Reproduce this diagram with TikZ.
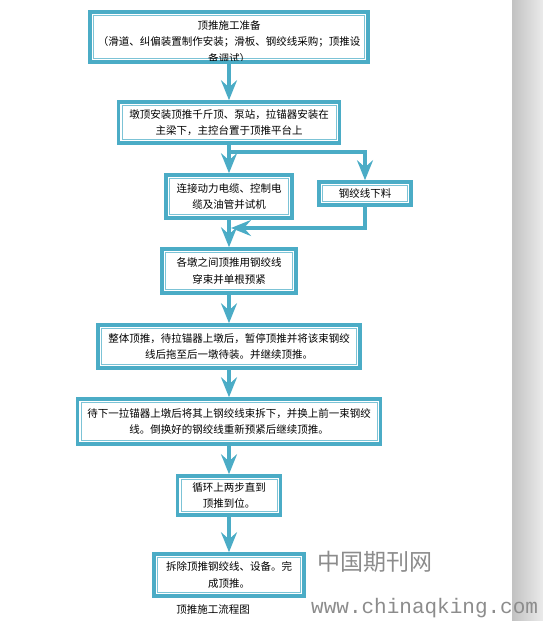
\documentclass[tikz,border=0pt]{standalone}
\usepackage{fontspec}
\usepackage{tikz}
\usetikzlibrary{arrows.meta}
\newfontfamily\cjk{Noto Sans CJK SC}
\newfontfamily\wmmono{Liberation Mono}
\definecolor{flowblue}{HTML}{4BACC6}
\definecolor{frameblue}{HTML}{7CC3D6}
\tikzset{
  stepbox/.style={draw=flowblue, line width=3.5pt, fill=white, inner sep=0pt,
    font=\cjk\fontsize{10.5}{16.5}\selectfont, align=center,
    path picture={\draw[line width=0.8pt, draw=frameblue]
      ([shift={(3.6pt,-3.6pt)}]path picture bounding box.north west) rectangle
      ([shift={(-3.6pt,3.6pt)}]path picture bounding box.south east);}},
  flow/.style={draw=flowblue, line width=4.5pt,
    -{Stealth[length=20pt, width=16pt, inset=7pt, fill=flowblue]}},
  wmark/.style={black!45, inner sep=0pt},
}

\begin{document}
\begin{tikzpicture}[x=1pt, y=-1pt]
  \useasboundingbox (0,0) rectangle (543,621);
  \shade[left color=black!24, right color=black!8] (512,0) rectangle (543,621);
  % boxes
  \node[stepbox, minimum width=278pt, minimum height=50pt] (prep) at (229,37) {};
  \begin{scope}
    \clip (92,15) rectangle (366,60);
    \node[font=\cjk\fontsize{10.5}{16.8}\selectfont, align=center, inner sep=0pt] (prep-text) at (229,42)
      {顶推施工准备\\（滑道、纠偏装置制作安装；滑板、钢绞线采购；顶推设\\备调试）};
  \end{scope}
  \node[stepbox, minimum width=221pt, minimum height=41pt] (install) at (229,122.5)
    {墩顶安装顶推千斤顶、泵站，拉锚器安装在\\主梁下，主控台置于顶推平台上};
  \node[stepbox, minimum width=126pt, minimum height=43pt] (connect) at (229,196.5)
    {连接动力电缆、控制电\\缆及油管并试机};
  \node[stepbox, minimum width=92pt, minimum height=23pt] (cut) at (365,193.5)
    {钢绞线下料};
  \node[stepbox, minimum width=134pt, minimum height=44pt] (thread) at (229,271)
    {各墩之间顶推用钢绞线\\穿束并单根预紧};
  \node[stepbox, minimum width=262pt, minimum height=43pt] (push) at (229,346.5)
    {整体顶推，待拉锚器上墩后，暂停顶推并将该束钢绞\\线后拖至后一墩待装。并继续顶推。};
  \node[stepbox, minimum width=303pt, minimum height=45pt] (swap) at (229,421.5)
    {待下一拉锚器上墩后将其上钢绞线束拆下，并换上前一束钢绞\\线。倒换好的钢绞线重新预紧后继续顶推。};
  \node[stepbox, minimum width=103pt, minimum height=39pt] (repeat) at (229,495.5)
    {循环上两步直到\\顶推到位。};
  \node[stepbox, minimum width=150pt, minimum height=42pt] (remove) at (229,575)
    {拆除顶推钢绞线、设备。完\\成顶推。};
  % connectors
  \coordinate (split) at (229,152);
  \coordinate (merge) at (231,228);
  \draw[flow] (prep) -- (install);
  \draw[flow] (install) -- (connect);
  \draw[flow] (split) -| (cut.north);
  \draw[flow] (cut.south) |- (merge);
  \draw[flow] (connect) -- (thread);
  \draw[flow] (thread) -- (push);
  \draw[flow] (push) -- (swap);
  \draw[flow] (swap) -- (repeat);
  \draw[flow] (repeat) -- (remove);
  % caption and watermark
  \node[font=\cjk\fontsize{10.5}{12}\selectfont, inner sep=0pt] (caption) at (213,610) {顶推施工流程图};
  \node[wmark, font=\cjk\fontsize{23}{24}\selectfont, anchor=west] (wm-cn) at (317,562) {中国期刊网};
  \node[wmark, font=\wmmono\fontsize{21}{22}\selectfont, anchor=west] (wm-url) at (311,608) {www.chinaqking.com};
\end{tikzpicture}
\end{document}
